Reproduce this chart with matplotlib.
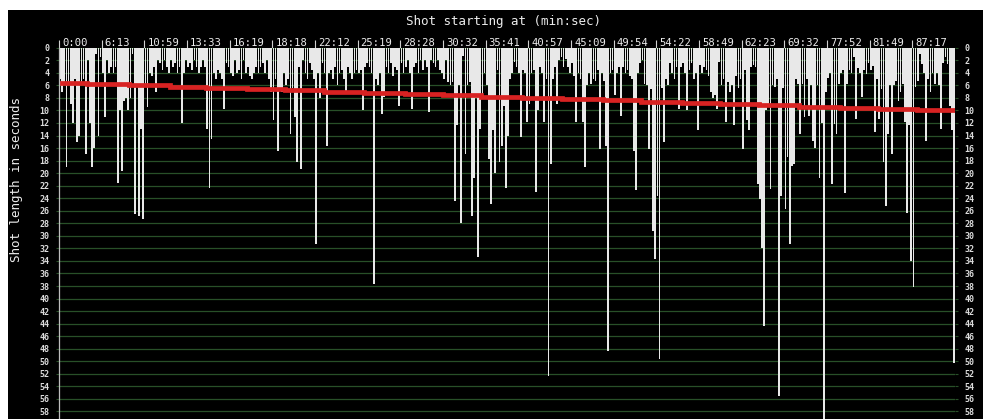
import matplotlib
matplotlib.use("Agg")
import matplotlib.pyplot as plt
import matplotlib.transforms as mtransforms
from matplotlib.patches import Rectangle
import numpy as np

# ---------------- data ----------------
# length (seconds) of each shot, in film order
shot_lengths = [
    5, 7, 6, 19, 6, 9, 12, 5, 15, 14, 6, 5, 17, 2, 12, 19, 16, 1, 14, 1.5,
    4, 11, 2, 4, 3, 4, 3, 21.5, 10, 19.6, 8.5, 8, 10, 8, 1, 26.5, 6, 26.8, 13, 27.3,
    6, 9.5, 4, 4.5, 3, 7, 2, 2.5, 3.5, 2, 3, 4, 2, 3, 2.5, 4, 3, 12, 4, 2,
    3, 2.5, 3.5, 2, 3, 4, 3, 2, 3, 13, 22.3, 14.6, 4, 5, 3.5, 4, 5, 9.8, 2.5, 3,
    4, 4.5, 2, 4, 3.5, 5, 2, 4, 3, 4.5, 5, 4, 3, 4, 3, 2.5, 4, 2, 5, 7,
    11.6, 5, 16.4, 6.5, 7, 4, 6, 5, 13.8, 6.5, 11.1, 18.3, 3, 19.4, 2, 4, 5, 2.5, 3.5, 5,
    31.3, 4, 8, 2.5, 4, 15.6, 4, 3.5, 5, 3, 6, 4, 3.5, 5, 7, 3, 4, 5, 4, 3.5,
    4, 3.5, 10, 3, 2.5, 3, 4, 37.6, 5, 6, 4, 10.6, 7.9, 3, 4, 2.5, 4.5, 3, 3.5, 9.3,
    2.5, 4, 3, 2, 4, 9.8, 3, 2.5, 4, 2, 3.5, 2, 3, 10.3, 2, 2.5, 3, 2, 3.5, 4,
    5, 2, 5.5, 6, 5.5, 24.4, 12.4, 6, 27.9, 1.3, 17, 6, 5.5, 26.9, 20.7, 8, 33.4, 13, 7.5, 4,
    6, 17.8, 24.9, 13.2, 19.9, 3.5, 18.3, 15.6, 9.3, 22.3, 14, 5, 4, 2.3, 3, 4, 14.3, 3.5, 4, 11.9,
    9, 4, 3.5, 23, 10, 3, 4, 11.9, 5, 52.3, 18.6, 5, 3, 9, 2, 1.5, 3, 1.8, 3, 4,
    2.5, 4.5, 11.9, 4, 5, 11.9, 19.1, 6, 4, 5.8, 5, 5.3, 3.5, 16.2, 4, 5.3, 15.6, 48.4, 4, 3.5,
    7.5, 4, 3, 10.9, 3, 4, 3.5, 4.5, 5, 16.4, 22.7, 4, 2.5, 2, 5.8, 6, 16.2, 6.6, 29.2, 33.7,
    23.6, 49.7, 6.5, 15.1, 5, 6, 2.5, 4, 5, 3, 9.8, 3, 2.5, 4, 10, 3.5, 2.5, 5, 4, 13.2,
    2.8, 4, 3, 3.5, 4.5, 7, 8, 7.5, 9.8, 2.3, 6, 5, 11.9, 5.5, 7, 6, 12.4, 4.5, 6.5, 5,
    16.2, 3.5, 11.6, 13.2, 3, 2.8, 3, 21.8, 24.1, 31.9, 44.4, 10, 9.5, 22.6, 6, 6.3, 5, 55.5, 23.6, 6.5,
    25.7, 17.5, 31.3, 18.8, 18.5, 5, 5.8, 13.8, 5.8, 11.1, 5, 10.9, 6, 14.8, 16, 6, 20.7, 12, 60, 7,
    4.8, 4, 21.8, 12.2, 13.8, 5.8, 4, 3.5, 23.1, 5.8, 3.5, 4, 1.5, 11.4, 3.2, 4, 7.9, 3.5, 4.2, 2.5,
    3.5, 2.9, 13.5, 5, 11.4, 6.6, 18.3, 25.2, 13.8, 6, 17, 6, 5.3, 8.5, 7, 5.8, 11.9, 26.3, 12.4, 34,
    38.2, 6.3, 5.3, 1, 2.6, 4, 14.8, 5, 7, 4, 5.8, 4, 6, 13, 2.5, 1.5, 2.6, 9.3, 13.2, 50.2,
]

# running average (red step line): shot index where each level starts, and the level
trend_edges = [0, 13, 33, 52, 69, 88, 106, 124, 143, 162, 180, 198, 217, 236,
               255, 273, 292, 310, 328, 347, 366, 384, 402, 420]
trend_levels = [5.6, 5.8, 6.0, 6.2, 6.4, 6.6, 6.8, 7.0, 7.2, 7.4, 7.6, 7.8,
                8.0, 8.2, 8.4, 8.6, 8.8, 9.0, 9.2, 9.4, 9.6, 9.8, 10.0]

# time labels on top axis, one every 20 shots
shots_per_label = 20
time_labels = ["0:00", "6:13", "10:59", "13:33", "16:19", "18:18", "22:12",
               "25:19", "28:28", "30:32", "35:41", "40:57", "45:09", "49:54",
               "54:22", "58:49", "62:23", "69:32", "77:52", "81:49", "87:17"]

y_ticks = list(range(0, 60, 2))

# ---------------- figure ----------------
W, H = 983, 419
MONO = "DejaVu Sans Mono"
fig = plt.figure(figsize=(W / 100, H / 100), dpi=100, facecolor="white")
fig.add_artist(Rectangle((8 / W, 0), 1, (H - 10) / H, transform=fig.transFigure,
                         facecolor="black", edgecolor="none", zorder=-10))

ax = fig.add_axes([59 / W, 0, 896 / W, (H - 47.7) / H])
ax.set_facecolor("black")

n = len(shot_lengths)
idx = np.arange(n)
ax.bar(idx, shot_lengths, width=0.8, bottom=0, color="#e8e8e8",
       linewidth=0, zorder=2)

ax.stairs(trend_levels, np.array(trend_edges) - 0.5, baseline=None,
          color="#d82222", linewidth=3.4, zorder=3)

ax.set_xlim(-0.5, n - 0.5)
ax.set_ylim(59.2, 0)

# grid
ax.set_yticks(y_ticks)
ax.yaxis.grid(True, color="#285028", linewidth=0.9, zorder=0)
ax.set_axisbelow(True)

ax.tick_params(axis="y", which="both", left=True, right=True, labelleft=True,
               labelright=True, direction="out", length=2.5, width=0.8,
               color="#285028", labelcolor="#dcdcdc", labelsize=6, pad=4.5)
for lab in ax.yaxis.get_ticklabels(which="both"):
    lab.set_family(MONO)
    lab.set_fontweight("bold")

# top x ticks
xt = [k * shots_per_label - 0.5 for k in range(len(time_labels))]
ax.xaxis.set_ticks_position("top")
ax.set_xticks(xt)
ax.set_xticklabels(time_labels, ha="left", family=MONO)
ax.tick_params(axis="x", direction="out", length=6, width=0.8, color="#d0d0d0",
               labelcolor="#ececec", labelsize=7.6, pad=-6)
off = mtransforms.ScaledTranslation(3 / 100, 0, fig.dpi_scale_trans)
for lab in ax.get_xticklabels():
    lab.set_transform(lab.get_transform() + off)

for s in ["top", "right", "bottom"]:
    ax.spines[s].set_visible(False)
ax.spines["left"].set_color("#bdbdbd")
ax.spines["left"].set_linewidth(0.9)
ax.spines["left"].set_zorder(4)

fig.text(504 / W, 1 - 21 / H, "Shot starting at (min:sec)", ha="center",
         va="center", color="#ececec", fontsize=9, family=MONO)
fig.text(17 / W, 1 - 180 / H, "Shot length in seconds", ha="center",
         va="center", rotation=90, color="#ececec", fontsize=9, family=MONO)

fig.savefig("out.png", dpi=100, facecolor="white")
